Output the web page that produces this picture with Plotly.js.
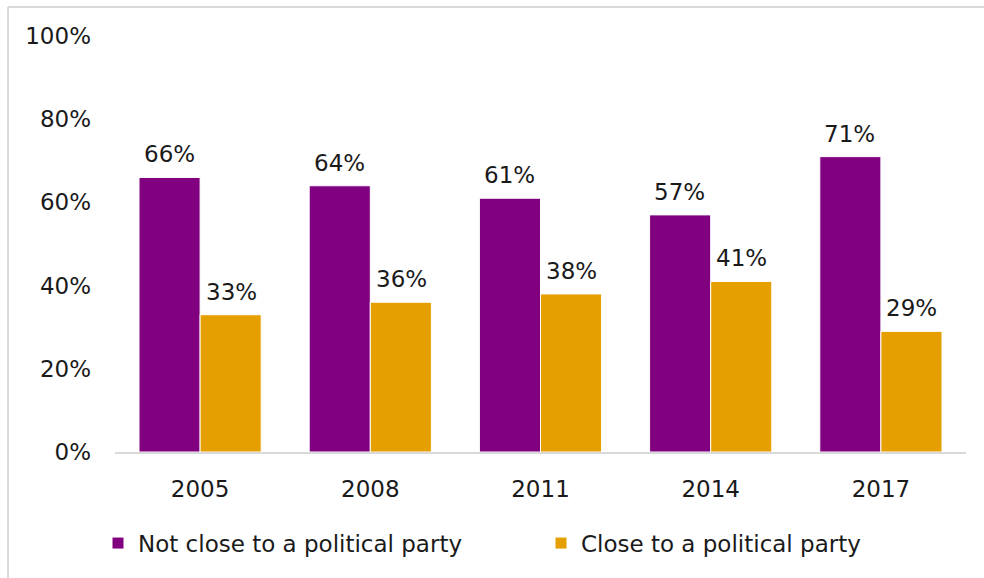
<!DOCTYPE html>
<html>
<head>
<meta charset="utf-8">
<script src="https://cdn.plot.ly/plotly-3.0.1.min.js"></script>
<style>html,body{margin:0;padding:0;background:#fff;}#chart{width:984px;height:578px;}</style>
</head>
<body>
<div id="chart"></div>
<script>
const years = ['2005', '2008', '2011', '2014', '2017'];
const notClose = [66, 64, 61, 57, 71];
const close = [33, 36, 38, 41, 29];
const seriesNames = ['Not close to a political party', 'Close to a political party'];
const yTickVals = [0, 20, 40, 60, 80, 100];

const FONT = '"DejaVu Sans", Lato, sans-serif';
const FS = 23;
const TXT = '#1a1a1a';
const purple = '#800080';
const orange = '#E69F00';

const traces = [
  {type: 'bar', x: years, y: notClose, name: seriesNames[0],
   marker: {color: purple, line: {color: '#ffffff', width: 1}}, hoverinfo: 'none'},
  {type: 'bar', x: years, y: close, name: seriesNames[1],
   marker: {color: orange, line: {color: '#ffffff', width: 1}}, hoverinfo: 'none'}
];

const annotations = [];
[[notClose, -31], [close, 31]].forEach(([vals, dx]) => {
  vals.forEach((v, i) => {
    annotations.push({x: i, y: v, xref: 'x', yref: 'y', text: v + '%',
      showarrow: false, yanchor: 'bottom', xshift: dx, yshift: 8,
      font: {family: FONT, size: FS, color: TXT}});
  });
});

// frame lines (top and left edges of the chart box)
const shapes = [
  {type: 'line', xref: 'paper', yref: 'paper', x0: -0.1257, x1: 1.05, y0: 1.0697, y1: 1.0697,
   line: {color: '#d9d9d9', width: 2}},
  {type: 'line', xref: 'paper', yref: 'paper', x0: -0.1257, x1: -0.1257, y0: 1.0697, y1: -0.35,
   line: {color: '#d9d9d9', width: 2}}
];

const layout = {
  width: 984, height: 578,
  margin: {l: 115, r: 18, t: 36, b: 126},
  paper_bgcolor: '#ffffff', plot_bgcolor: '#ffffff',
  font: {family: FONT, size: FS, color: TXT},
  barmode: 'group', bargap: 0.282, bargroupgap: 0,
  xaxis: {type: 'category', range: [-0.5, 4.5], showline: true, linecolor: '#d9d9d9', linewidth: 2,
          ticks: '', showgrid: false, zeroline: false, ticklabelstandoff: 15,
          tickfont: {family: FONT, size: FS, color: TXT}},
  yaxis: {range: [0, 100], tickvals: yTickVals, ticktext: yTickVals.map(v => v + '%'),
          showgrid: false, zeroline: false, showline: false, ticks: '', ticklabelstandoff: 23,
          tickfont: {family: FONT, size: FS, color: TXT}},
  showlegend: true,
  legend: {orientation: 'h', x: -0.006, xanchor: 'left', y: -0.219, yanchor: 'middle',
           font: {family: FONT, size: FS, color: TXT},
           entrywidth: 398, entrywidthmode: 'pixels', itemwidth: 30, traceorder: 'normal'},
  annotations: annotations,
  shapes: shapes
};

Plotly.newPlot('chart', traces, layout, {displayModeBar: false, staticPlot: true});
</script>
</body>
</html>
